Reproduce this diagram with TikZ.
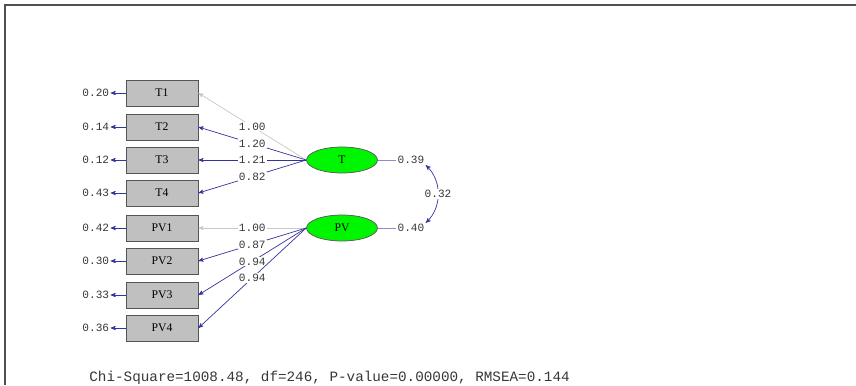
\documentclass[tikz,border=0pt]{standalone}
\usepackage{fontspec}
\newfontfamily\monofont{Liberation Mono}
\newfontfamily\boxfont{Liberation Serif}
\usepackage{tikz}
\usetikzlibrary{arrows,positioning,shapes.geometric}
\definecolor{pathblue}{RGB}{52,52,158}
\definecolor{varblue}{RGB}{140,140,205}
\definecolor{fixgray}{RGB}{200,200,200}
\definecolor{boxgray}{RGB}{192,192,192}
\definecolor{boxedge}{RGB}{85,85,85}
\definecolor{latgreen}{RGB}{0,245,0}
\definecolor{labgray}{RGB}{55,55,55}
\definecolor{framegray}{RGB}{80,80,80}

\begin{document}
\begin{tikzpicture}[>=stealth', x=0.03cm, y=-0.03cm,
	obs/.style={draw=boxedge, fill=boxgray, line width=0.7pt, minimum width=2.16cm, minimum height=0.78cm, inner sep=0pt, font=\boxfont\fontsize{10}{12}\selectfont},
	lat/.style={ellipse, draw=boxedge, fill=latgreen, line width=0.6pt, minimum width=2.13cm, minimum height=0.78cm, inner sep=0pt, font=\boxfont\fontsize{10}{12}\selectfont},
	est/.style={font=\monofont\fontsize{9.5}{11}\selectfont, text=labgray, inner sep=1pt},
	lbl/.style={est, fill=white},
	load/.style={->, pathblue, line width=0.6pt},
	fixed/.style={->, fixgray, line width=0.6pt},
	var/.style={varblue, line width=0.6pt}]
	\useasboundingbox (0,0) rectangle (856,385);
	\draw[framegray, line width=1.6pt] (5,385) -- (5,5) -- (856,5);

	\node[obs] (T1) at (162,93) {T1};
	\node[obs] (T2) at (162,127) {T2};
	\node[obs] (T3) at (162,160) {T3};
	\node[obs] (T4) at (162,193) {T4};
	\node[obs] (PV1) at (162,228) {PV1};
	\node[obs] (PV2) at (162,261) {PV2};
	\node[obs] (PV3) at (162,295) {PV3};
	\node[obs] (PV4) at (162,328) {PV4};

	\node[est] (eT1) [left=0.45cm of T1] {0.20};
	\node[est] (eT2) [left=0.45cm of T2] {0.14};
	\node[est] (eT3) [left=0.45cm of T3] {0.12};
	\node[est] (eT4) [left=0.45cm of T4] {0.43};
	\node[est] (ePV1) [left=0.45cm of PV1] {0.42};
	\node[est] (ePV2) [left=0.45cm of PV2] {0.30};
	\node[est] (ePV3) [left=0.45cm of PV3] {0.33};
	\node[est] (ePV4) [left=0.45cm of PV4] {0.36};

	\node[lat] (T) at (342,160) {T};
	\node[lat] (PV) at (342,228) {PV};
	\node[est] (vT) [right=0.55cm of T] {0.39};
	\node[est] (vPV) [right=0.55cm of PV] {0.40};

	\path
	(T1.west) edge[load] (eT1) (T2.west) edge[load] (eT2)
	(T3.west) edge[load] (eT3) (T4.west) edge[load] (eT4)
	(PV1.west) edge[load] (ePV1) (PV2.west) edge[load] (ePV2)
	(PV3.west) edge[load] (ePV3) (PV4.west) edge[load] (ePV4)

	(T.west) edge[fixed] node[lbl] {1.00} (T1.east)
	(T.west) edge[load] node[lbl] {1.20} (T2.east)
	(T.west) edge[load] node[lbl] {1.21} (T3.east)
	(T.west) edge[load] node[lbl] {0.82} (T4.east)
	(PV.west) edge[fixed] node[lbl] {1.00} (PV1.east)
	(PV.west) edge[load] node[lbl] {0.87} (PV2.east)
	(PV.west) edge[load] node[lbl] {0.94} (PV3.east)
	(PV.west) edge[load] node[lbl] {0.94} (PV4.east)

	(T) edge[var] (vT)
	(PV) edge[var] (vPV)
	(vT.south east) edge[load, <->, bend left=47] node[lbl] {0.32} (vPV.north east)
	;

	\node[est, font=\monofont\fontsize{12.2}{14}\selectfont, anchor=west] (fit) at (88,378) {Chi-Square=1008.48, df=246, P-value=0.00000, RMSEA=0.144};
\end{tikzpicture}
\end{document}
